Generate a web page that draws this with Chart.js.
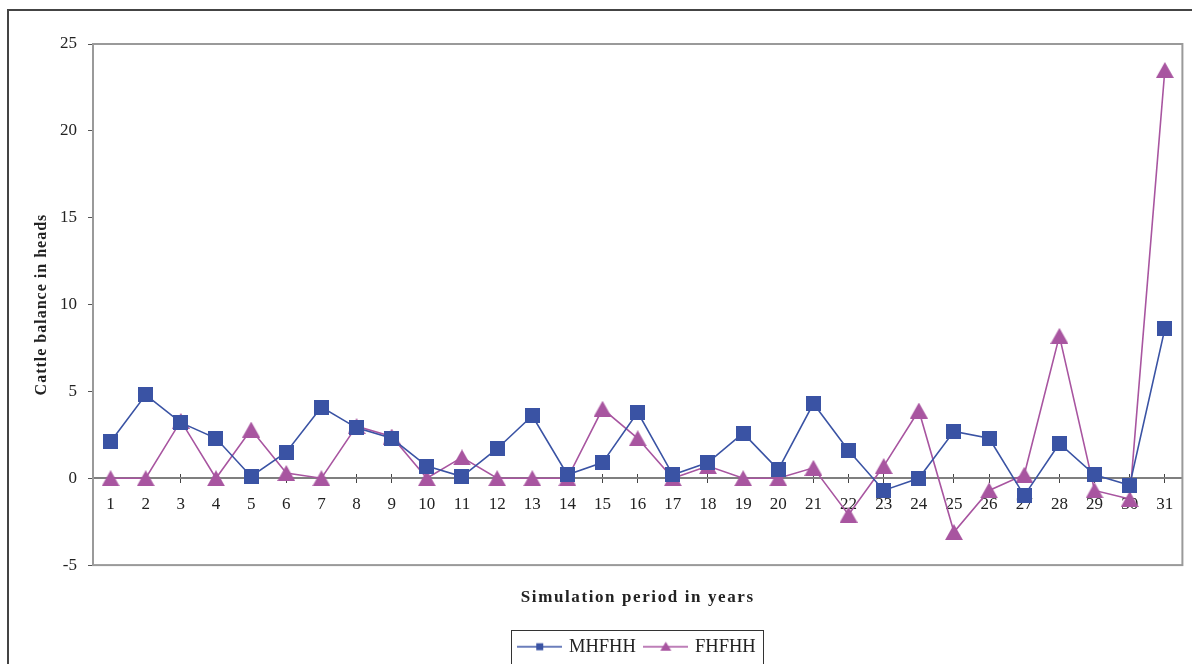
<!DOCTYPE html>
<html>
<head>
<meta charset="utf-8">
<title>Cattle balance</title>
<script src="https://cdn.jsdelivr.net/npm/chart.js@4.4.1/dist/chart.umd.min.js"></script>
<style>
    html, body { margin: 0; padding: 0; background: #fff; }
    #wrap { position: absolute; left: 0; top: 0; width: 1192px; height: 664px; }
    #frame {
        position: absolute; left: 7px; top: 9px; width: 1200px; height: 670px;
        border-top: 2px solid #444; border-left: 2px solid #444;
        pointer-events: none;
    }
</style>
</head>
<body>
<div id="wrap"><canvas id="balanceChart"></canvas></div>
<div id="frame"></div>
<script>
// simulation years 1..31
const years = ['1', '2', '3', '4', '5', '6', '7', '8', '9', '10', '11', '12', '13', '14', '15', '16',
    '17', '18', '19', '20', '21', '22', '23', '24', '25', '26', '27', '28', '29', '30', '31'];

const mhfhh = [2.1, 4.8, 3.2, 2.3, 0.1, 1.5, 4.1, 2.9, 2.3, 0.7, 0.1, 1.7, 3.6, 0.2, 0.9, 3.8,
    0.2, 0.9, 2.6, 0.5, 4.3, 1.6, -0.7, 0.0, 2.7, 2.3, -1.0, 2.0, 0.2, -0.4, 8.6];

const fhfhh = [0, 0, 3.3, 0, 2.8, 0.3, 0, 3.0, 2.4, 0, 1.2, 0, 0, 0, 4.0, 2.3,
    0, 0.7, 0, 0, 0.6, -2.1, 0.7, 3.9, -3.1, -0.7, 0.2, 8.2, -0.7, -1.2, 23.5];

const yTicks = [-5, 0, 5, 10, 15, 20, 25];

const BLUE = '#3A53A4';
const PURPLE = '#A855A0';
const FONT = "'Liberation Serif', 'Times New Roman', serif";

// marker images (centered on the point like the excel markers)
function squareMarker(size, color) {
    const c = document.createElement('canvas');
    c.width = size; c.height = size;
    const g = c.getContext('2d');
    g.fillStyle = color;
    g.fillRect(0, 0, size, size);
    return c;
}

function triangleMarker(w, h, color) {
    const c = document.createElement('canvas');
    c.width = w; c.height = h;
    const g = c.getContext('2d');
    g.fillStyle = color;
    g.beginPath();
    g.moveTo(w / 2, 0);
    g.lineTo(w, h);
    g.lineTo(0, h);
    g.closePath();
    g.fill();
    return c;
}

// legend sample: line with small marker in the middle
function legendIcon(color, type) {
    const c = document.createElement('canvas');
    c.width = 45; c.height = 14;
    const g = c.getContext('2d');
    g.strokeStyle = color;
    g.lineWidth = 1.5;
    g.beginPath();
    g.moveTo(0, 7);
    g.lineTo(45, 7);
    g.stroke();
    g.fillStyle = color;
    if (type === 'square') {
        g.fillRect(19, 3.5, 7, 7);
    } else {
        g.beginPath();
        g.moveTo(22.5, 2);
        g.lineTo(28, 11);
        g.lineTo(17, 11);
        g.closePath();
        g.fill();
    }
    return c;
}

const legendIcons = [legendIcon(BLUE, 'square'), legendIcon(PURPLE, 'triangle')];

// excel style plot frame
const plotFrame = {
    id: 'plotFrame',
    beforeDatasetsDraw(chart) {
        const { ctx, chartArea: a } = chart;
        ctx.save();
        ctx.strokeStyle = '#9a9a9a';
        ctx.lineWidth = 2;
        ctx.strokeRect(a.left, a.top, a.right - a.left, a.bottom - a.top);
        ctx.restore();
    }
};

// box around the legend items
const legendBox = {
    id: 'legendBox',
    afterDraw(chart) {
        const boxes = chart.legend.legendHitBoxes;
        if (!boxes || !boxes.length) return;
        const left = boxes[0].left - 9;
        const right = boxes[boxes.length - 1].left + boxes[boxes.length - 1].width + 7;
        const cy = boxes[0].top + boxes[0].height / 2;
        const ctx = chart.ctx;
        ctx.save();
        ctx.strokeStyle = '#333';
        ctx.lineWidth = 1;
        ctx.strokeRect(Math.round(left) + 0.5, Math.round(cy - 17) + 0.5, Math.round(right - left), 34);
        ctx.restore();
    }
};

// spaced out axis titles
const titleSpacing = {
    id: 'titleSpacing',
    beforeDraw(chart) {
        [['x', '1.6px'], ['y', '1px']].forEach(([id, sp]) => {
            const scale = chart.scales[id];
            if (!scale || scale._spaced) return;
            const orig = scale.drawTitle;
            scale.drawTitle = function () {
                this.ctx.save();
                this.ctx.letterSpacing = sp;
                orig.call(this);
                this.ctx.restore();
            };
            scale._spaced = true;
        });
    }
};

const ctx = document.getElementById('balanceChart').getContext('2d');
const balanceChart = new Chart(ctx, {
    type: 'line',
    data: {
        labels: years,
        datasets: [{
            label: 'MHFHH',
            data: mhfhh,
            borderColor: BLUE,
            backgroundColor: BLUE,
            borderWidth: 1.6,
            pointStyle: squareMarker(15, BLUE),
            pointRadius: 8,
            tension: 0
        }, {
            label: 'FHFHH',
            data: fhfhh,
            borderColor: PURPLE,
            backgroundColor: PURPLE,
            borderWidth: 1.6,
            pointStyle: triangleMarker(18, 16, PURPLE),
            pointRadius: 8,
            tension: 0
        }]
    },
    plugins: [plotFrame, legendBox, titleSpacing],
    options: {
        responsive: true,
        maintainAspectRatio: false,
        animation: false,
        layout: {
            padding: { top: 44, right: 4, left: 0, bottom: -2 }
        },
        scales: {
            x: {
                type: 'category',
                position: 'bottom',
                offset: true,
                ticks: { display: false },
                grid: { display: false },
                border: { display: false },
                title: {
                    display: true,
                    text: 'Simulation period in years',
                    color: '#222',
                    font: { family: FONT, size: 17, weight: 'bold' },
                    padding: { top: 14, bottom: 20 }
                }
            },
            // axis line through zero with the year labels
            xz: {
                type: 'category',
                labels: years,
                position: { y: 0 },
                offset: true,
                grid: {
                    drawOnChartArea: false,
                    tickLength: 4,
                    tickColor: '#444',
                    tickWidth: 1
                },
                border: { color: '#7f7f7f', width: 2 },
                ticks: {
                    color: '#222',
                    padding: 12,
                    maxRotation: 0,
                    autoSkip: false,
                    font: { family: FONT, size: 17 }
                }
            },
            // upper half of the crossing tick marks
            xu: {
                type: 'category',
                labels: years,
                position: { y: 0 },
                offset: true,
                grid: {
                    drawOnChartArea: false,
                    tickLength: -4,
                    tickColor: '#444',
                    tickWidth: 1
                },
                border: { display: false },
                ticks: { display: false }
            },
            y: {
                min: yTicks[0],
                max: yTicks[yTicks.length - 1],
                afterFit: function (scale) {
                    scale.width = 93;
                },
                ticks: {
                    stepSize: 5,
                    color: '#222',
                    padding: 11,
                    font: { family: FONT, size: 17 }
                },
                grid: {
                    drawOnChartArea: false,
                    tickLength: 5,
                    tickColor: '#555'
                },
                border: { color: '#7f7f7f', width: 2 },
                title: {
                    display: true,
                    text: 'Cattle balance in heads',
                    color: '#222',
                    font: { family: FONT, size: 16, weight: 'bold' },
                    padding: { top: 32, bottom: 0 }
                }
            }
        },
        plugins: {
            legend: {
                position: 'bottom',
                fullSize: false,
                labels: {
                    usePointStyle: true,
                    pointStyleWidth: 40,
                    padding: 10,
                    color: '#222',
                    font: { family: FONT, size: 18.5 },
                    generateLabels: function (chart) {
                        return chart.data.datasets.map(function (ds, i) {
                            return {
                                text: ds.label,
                                pointStyle: legendIcons[i],
                                fillStyle: ds.backgroundColor,
                                strokeStyle: ds.borderColor,
                                lineWidth: 0,
                                hidden: false,
                                datasetIndex: i,
                                fontColor: '#222'
                            };
                        });
                    }
                }
            },
            tooltip: { enabled: false }
        }
    }
});
</script>
</body>
</html>
